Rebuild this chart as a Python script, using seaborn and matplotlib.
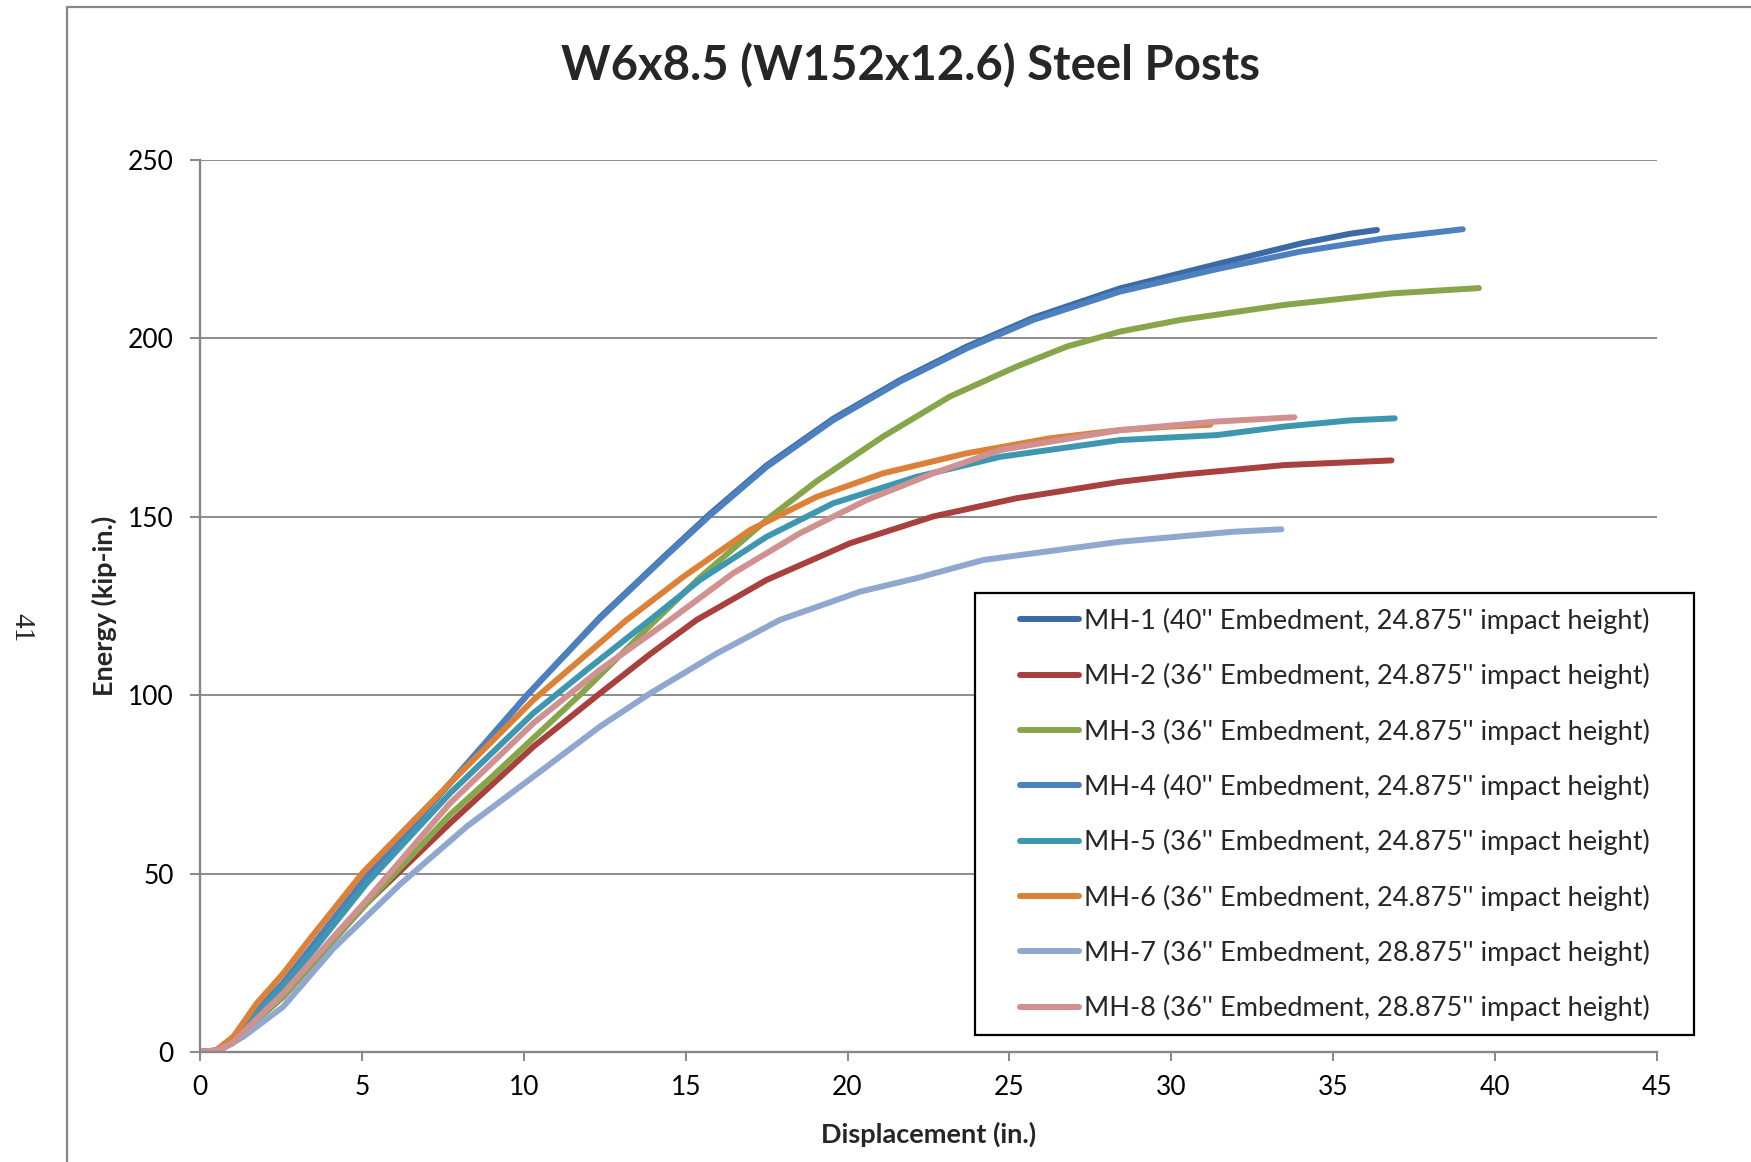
import numpy as np
import pandas as pd
import matplotlib
matplotlib.use("Agg")
import matplotlib.pyplot as plt
import seaborn as sns
from matplotlib.lines import Line2D
from matplotlib.patches import Rectangle

# ---------------- data ----------------
labels = [
    "MH-1 (40'' Embedment, 24.875'' impact height)",
    "MH-2 (36'' Embedment, 24.875'' impact height)",
    "MH-3 (36'' Embedment, 24.875'' impact height)",
    "MH-4 (40'' Embedment, 24.875'' impact height)",
    "MH-5 (36'' Embedment, 24.875'' impact height)",
    "MH-6 (36'' Embedment, 24.875'' impact height)",
    "MH-7 (36'' Embedment, 28.875'' impact height)",
    "MH-8 (36'' Embedment, 28.875'' impact height)",
]

mh1_x = [0, 0.5, 1.0, 1.5, 2.0, 2.57, 3.5, 5.15, 7.72, 10.1, 12.35, 14.41, 15.75, 17.5, 19.56, 21.62, 23.68, 25.74, 28.41, 31.4, 34.0, 35.5, 36.35]
mh1_y = [0, 0.4, 3.2, 8.5, 14.0, 19.3, 30.0, 49.1, 75.3, 100.0, 121.8, 139.5, 150.8, 164.4, 177.5, 188.3, 197.7, 205.8, 214.0, 220.8, 226.6, 229.3, 230.4]

mh2_x = [0, 0.5, 1.0, 1.5, 2.0, 2.57, 3.5, 5.15, 7.72, 10.3, 12.35, 13.9, 15.34, 17.5, 20.08, 22.65, 25.22, 28.41, 30.3, 33.5, 36.8]
mh2_y = [0, 0.3, 2.5, 6.5, 11.0, 15.5, 25.0, 41.7, 64.1, 85.6, 100.5, 111.5, 121.1, 132.3, 142.6, 150.1, 155.2, 159.8, 161.8, 164.5, 165.8]

mh3_x = [0, 0.5, 1.0, 1.5, 2.0, 2.57, 3.5, 5.15, 7.72, 9.06, 10.3, 11.84, 13.9, 15.44, 17.6, 19.05, 21.1, 23.16, 25.22, 26.77, 28.41, 30.3, 33.5, 36.8, 39.5]
mh3_y = [0, 0.3, 2.5, 6.5, 11.0, 15.5, 25.0, 41.7, 66.5, 77.5, 88.0, 101.0, 119.5, 133.0, 149.9, 160.0, 172.5, 183.7, 192.1, 197.7, 201.9, 205.2, 209.4, 212.6, 214.1]

mh4_x = [0, 0.5, 1.0, 1.5, 2.0, 2.57, 3.5, 5.15, 7.72, 10.1, 12.35, 14.41, 15.75, 17.5, 19.56, 21.62, 23.68, 25.74, 28.41, 31.4, 33.97, 36.55, 39.0]
mh4_y = [0, 0.4, 3.2, 8.5, 14.0, 19.3, 30.0, 49.1, 75.3, 100.0, 121.5, 139.2, 150.4, 164.0, 177.1, 187.9, 197.2, 205.2, 213.1, 219.4, 224.3, 228.0, 230.6]

mh5_x = [0, 0.5, 1.0, 1.5, 2.0, 2.57, 3.5, 5.15, 7.72, 10.3, 12.0, 13.9, 15.44, 17.5, 19.56, 22.13, 24.71, 28.41, 31.4, 33.5, 35.5, 36.9]
mh5_y = [0, 0.4, 3.0, 8.0, 13.0, 18.4, 28.5, 47.3, 72.5, 95.0, 107.5, 121.1, 132.3, 144.4, 153.8, 161.2, 166.8, 171.5, 172.9, 175.3, 177.0, 177.6]

mh6_x = [0, 0.5, 1.03, 1.75, 2.57, 3.29, 5.04, 7.72, 10.3, 13.18, 14.93, 16.99, 19.05, 21.1, 23.68, 26.25, 28.41, 30.0, 31.2]
mh6_y = [0, 0.5, 4.3, 13.6, 22.0, 30.5, 50.4, 75.3, 98.7, 121.1, 133.2, 146.3, 155.6, 162.2, 167.8, 172.0, 174.3, 175.3, 175.8]

mh7_x = [0, 0.62, 1.34, 2.57, 4.12, 6.18, 8.24, 10.3, 12.35, 13.9, 15.96, 17.91, 20.38, 22.13, 24.19, 28.41, 31.9, 33.4]
mh7_y = [0, 0.5, 4.3, 12.7, 29.0, 47.0, 63.2, 77.2, 91.2, 100.5, 111.7, 121.1, 129.0, 132.8, 137.9, 143.0, 145.8, 146.5]

mh8_x = [0, 0.5, 1.0, 1.5, 2.0, 2.57, 3.5, 5.15, 7.72, 10.3, 12.35, 14.52, 16.47, 18.53, 20.59, 22.65, 24.71, 28.41, 31.4, 33.8]
mh8_y = [0, 0.3, 2.5, 7.0, 11.5, 16.4, 26.0, 42.6, 69.7, 92.2, 107.1, 121.1, 134.2, 145.4, 154.7, 162.2, 168.7, 174.3, 176.7, 177.9]

colors = ["#3C6AA4", "#A8403E", "#87A64B", "#4C80BF", "#3D97B0", "#DC8238", "#90A8CF", "#D19190"]

x_ticks = [0, 5, 10, 15, 20, 25, 30, 35, 40, 45]
y_ticks = [0, 50, 100, 150, 200, 250]

title = "W6x8.5 (W152x12.6) Steel Posts"
x_label = "Displacement (in.)"
y_label = "Energy (kip-in.)"
page_no = "41"

# ---------------- build long table ----------------
xs = [mh1_x, mh2_x, mh3_x, mh4_x, mh5_x, mh6_x, mh7_x, mh8_x]
ys = [mh1_y, mh2_y, mh3_y, mh4_y, mh5_y, mh6_y, mh7_y, mh8_y]
frames = []
for lab, x, y in zip(labels, xs, ys):
    frames.append(pd.DataFrame({"Displacement": x, "Energy": y, "Test": lab}))
df = pd.concat(frames, ignore_index=True)

# ---------------- figure ----------------
sns.set_theme(style="white")
plt.rcParams["font.family"] = ["Lato", "DejaVu Sans"]

W, H = 1751, 1162
fig = plt.figure(figsize=(W / 100, H / 100), dpi=100)
ax = fig.add_axes([200 / W, 1 - 1052 / H, 1457 / W, 892 / H])

LW = 4.3
sns.lineplot(data=df, x="Displacement", y="Energy", hue="Test",
             hue_order=labels, palette=dict(zip(labels, colors)),
             sort=False, estimator=None, linewidth=LW, ax=ax,
             solid_capstyle="round", solid_joinstyle="round")

ax.set_xlim(0, 45)
ax.set_ylim(0, 250)
ax.set_xticks(x_ticks)
ax.set_yticks(y_ticks)
ax.set_xlabel("")
ax.set_ylabel("")

grey = "#878787"
ax.yaxis.grid(True, color="#8C8C8C", linewidth=1.4)
ax.xaxis.grid(False)
ax.set_axisbelow(True)
for s in ["top", "right"]:
    ax.spines[s].set_visible(False)
for s in ["left", "bottom"]:
    ax.spines[s].set_color(grey)
    ax.spines[s].set_linewidth(1.7)
ax.tick_params(axis="x", direction="out", length=6.5, width=1.4, color=grey,
               pad=10, labelsize=19, labelcolor="black", bottom=True)
ax.tick_params(axis="y", direction="out", length=7, width=1.4, color=grey,
               pad=12, labelsize=19, labelcolor="black", left=True)

# legend box (white, black border) and the frameless legend on top of it
box = Rectangle((975 / W, 1 - 1035 / H), 719 / W, 442 / H,
                transform=fig.transFigure, facecolor="white",
                edgecolor="black", linewidth=1.6, zorder=4, clip_on=False)
ax.add_artist(box)
leg = ax.legend(loc="center", bbox_to_anchor=(1334.5 / W, 1 - 814.5 / H),
                bbox_transform=fig.transFigure, fontsize=19.5, frameon=False,
                handlelength=2.21, handletextpad=0.15, labelspacing=1.08,
                borderpad=0, borderaxespad=0)
leg.set_zorder(6)
for lh in leg.get_lines():
    lh.set_linewidth(LW)
    lh.set_solid_capstyle("round")

# texts
fig.text(910 / W, 1 - 66 / H, title, ha="center", va="center",
         fontsize=34, fontweight="bold")
fig.text(929 / W, 1 - 1134 / H, x_label, ha="center", va="center",
         fontsize=19.5, fontweight="bold")
fig.text(104 / W, 1 - 606 / H, y_label, ha="center", va="center",
         rotation=90, fontsize=19.5, fontweight="bold")
fig.text(21 / W, 1 - 628 / H, page_no, ha="center", va="center",
         rotation=-90, fontsize=21, family="Liberation Serif")

# outer frame of the page chart
fig.add_artist(Line2D([67 / W, 67 / W], [0, 1 - 7 / H], transform=fig.transFigure,
                      color=grey, linewidth=1.6))
fig.add_artist(Line2D([67 / W, 1], [1 - 7 / H, 1 - 7 / H], transform=fig.transFigure,
                      color=grey, linewidth=1.6))

fig.savefig("out.png", dpi=100, facecolor="white")
